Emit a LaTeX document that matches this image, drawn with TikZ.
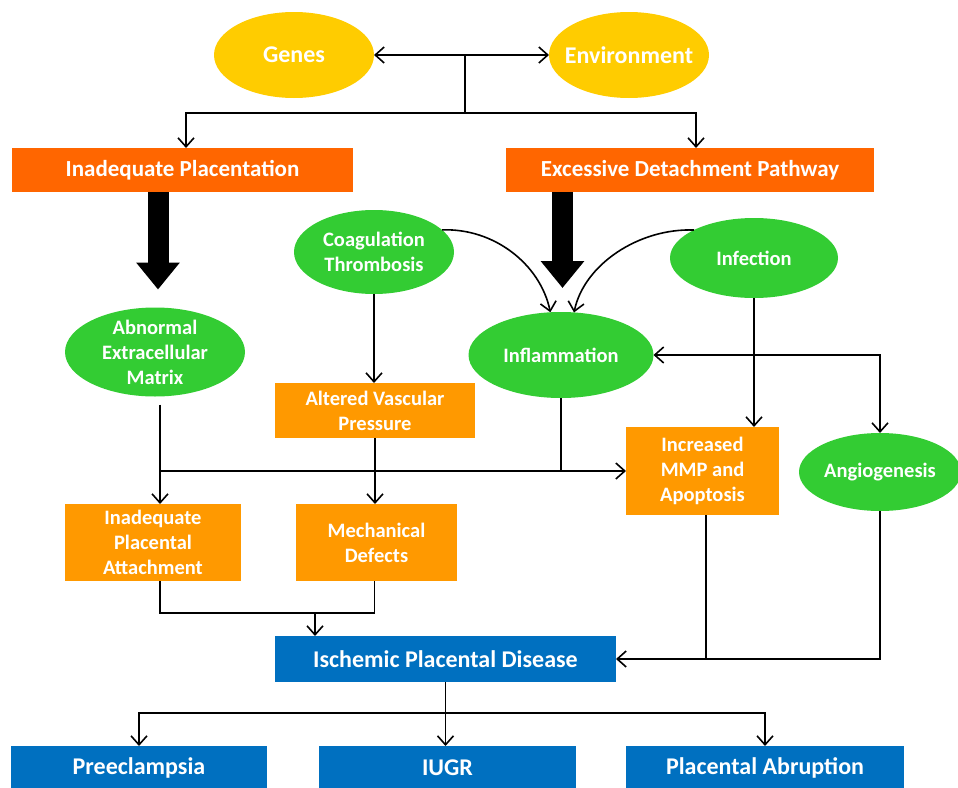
\documentclass[tikz,border=0pt]{standalone}
\usepackage{fontspec}
\setmainfont{Carlito}
\usetikzlibrary{shapes.geometric,arrows.meta,calc}
\definecolor{cyellow}{HTML}{FFCC00}
\definecolor{corange}{HTML}{FF6600}
\definecolor{clorange}{HTML}{FF9900}
\definecolor{cgreen}{HTML}{33CC33}
\definecolor{cblue}{HTML}{0070C0}
\begin{document}
\begin{tikzpicture}[x=1pt,y=-1pt,
  ell/.style={ellipse, draw=none, inner sep=0pt, outer sep=0pt},
  box/.style={rectangle, inner sep=0pt, outer sep=0pt, text=white,
    font=\bfseries\fontsize{20.5}{25}\selectfont, align=center},
  headbox/.style={box, fill=corange, font=\bfseries\fontsize{23}{28}\selectfont},
  bluebox/.style={box, fill=cblue, font=\bfseries\fontsize{24}{29}\selectfont},
  midbox/.style={box, fill=clorange},
  ltxt/.style={text=white, font=\bfseries\fontsize{20.5}{25}\selectfont, align=center},
  bigtxt/.style={text=white, font=\bfseries\fontsize{24}{29}\selectfont},
  conn/.style={line width=1.6pt, draw=black},
  tip/.style={conn, -{Straight Barb[length=9pt,width=16pt]}},
  tips/.style={conn, {Straight Barb[length=9pt,width=16pt]}-{Straight Barb[length=9pt,width=16pt]}},
  bigarrow/.style={line width=21pt, -{Triangle[length=27pt,width=42pt]}},
]
\useasboundingbox (0,0) rectangle (958,787);
\clip (0,0) rectangle (958,787);

% causes
\node[ell, fill=cyellow, minimum width=160pt, minimum height=86pt,
  label={[bigtxt]center:Genes}] (genes) at (294,55) {};
\node[ell, fill=cyellow, minimum width=160pt, minimum height=86pt,
  label={[bigtxt]center:Environment}] (env) at (629,55) {};

% pathways
\node[headbox, minimum width=341pt, minimum height=44pt] (ip) at (182.5,170) {Inadequate Placentation};
\node[headbox, minimum width=368pt, minimum height=44pt] (edp) at (690,170) {Excessive Detachment Pathway};

% mechanisms
\node[ell, fill=cgreen, minimum width=160pt, minimum height=84pt,
  label={[ltxt]center:{Coagulation\\Thrombosis}}] (coag) at (374,252) {};
\node[ell, fill=cgreen, minimum width=168pt, minimum height=80pt,
  label={[ltxt]center:Infection}] (infection) at (754,258) {};
\node[ell, fill=cgreen, minimum width=185pt, minimum height=86pt,
  label={[ltxt]center:Inflammation}] (inflam) at (561,355) {};
\node[ell, fill=cgreen, minimum width=180pt, minimum height=89pt,
  label={[ltxt]center:{Abnormal\\Extracellular\\Matrix}}] (abnormal) at (155,352) {};
\node[ell, fill=cgreen, minimum width=162pt, minimum height=78pt,
  label={[ltxt]center:Angiogenesis}] (angio) at (880,472) {};

\node[midbox, minimum width=200pt, minimum height=55pt] (avp) at (375,410.5) {Altered Vascular\\Pressure};
\node[midbox, minimum width=153pt, minimum height=88pt] (mmp) at (702.5,471) {Increased\\MMP and\\Apoptosis};
\node[midbox, minimum width=176pt, minimum height=77pt] (ipa) at (153,542.5) {Inadequate\\Placental\\Attachment};
\node[midbox, minimum width=161pt, minimum height=77pt] (md) at (376.5,542.5) {Mechanical\\Defects};

% outcomes
\node[bluebox, minimum width=341pt, minimum height=46pt] (ipd) at (445.5,659) {Ischemic Placental Disease};
\node[bluebox, minimum width=256pt, minimum height=44pt] (pre) at (139,768) {Preeclampsia};
\node[bluebox, minimum width=257pt, minimum height=44pt] (iugr) at (447.5,768) {IUGR};
\node[bluebox, minimum width=278pt, minimum height=44pt] (pa) at (765,768) {Placental Abruption};

% genes / environment interplay and split to the two pathways
\draw[tips] (genes.east) -- (env.west);
\coordinate (gmid) at ($(genes.east)!0.52!(env.west)$);
\coordinate (split) at ($(gmid)+(0,58)$);
\draw[conn] (gmid) -- (split);
\draw[tip] (split) -| ($(ip.north)+(3.5,0)$);
\draw[tip] (split) -| ($(edp.north)+(6,0)$);

% block arrows
\draw[bigarrow] ($(ip.south)+(-24.5,0)$) -- ($(abnormal.north)+(3,-18)$);
\draw[bigarrow] ($(edp.south)+(-127.5,0)$) -- ($(inflam.north)+(1.5,-24)$);

% curved inputs to inflammation
\draw[tip] (coag.18) .. controls +(52,-2) and +(-10,-48) .. (inflam.104);
\draw[tip] (infection.155) .. controls +(-55,-2) and +(10,-48) .. (inflam.73);

% middle tier
\draw[tip] (coag.south) -- (coag.south |- avp.north);
\draw[tip] (infection.south) -- (infection.south |- mmp.north);
\draw[tips] (inflam.east) -- ($(angio.north |- inflam.east)+(0,0)$) -- (angio.north);
\coordinate (atop) at ($(abnormal.south)+(5,8)$);
\draw[tip] (atop) -- (atop |- ipa.north);
\draw[tip] (atop |- mmp.west) -- (mmp.west);
\draw[conn] (inflam.south) -- (inflam.south |- mmp.west);
\draw[tip] (avp.south) -- (avp.south |- md.north);

% towards ischemic placental disease
\coordinate (ipab) at ($(ipa.south)+(7,0)$);
\coordinate (mdb) at ($(md.south)+(-2,0)$);
\draw[conn] (ipab) -- ($(ipab)+(0,32)$) -- ($(mdb)+(0,32)$) -- (mdb);
\coordinate (bmid) at ($(ipd.north)+(-130.5,-23)$);
\draw[tip] (bmid) -- (bmid |- ipd.north);
\coordinate (mmpb) at ($(mmp.south)+(3.5,0)$);
\draw[conn] (mmpb) -- (mmpb |- ipd.east);
\draw[tip] (angio.south) |- (ipd.east);

% outcomes
\coordinate (bsplit) at ($(ipd.south)+(0,31)$);
\draw[conn] (ipd.south) -- (bsplit);
\draw[tip] (bsplit) -| (pre.north);
\draw[tip] (bsplit) -- (bsplit |- iugr.north);
\draw[tip] (bsplit) -| (pa.north);
\end{tikzpicture}
\end{document}
